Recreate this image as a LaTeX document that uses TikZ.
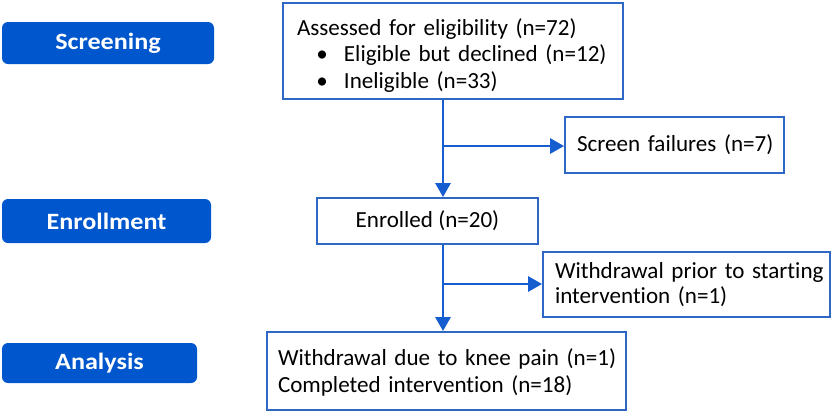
\documentclass[tikz,border=0pt]{standalone}
\usepackage{fontspec}
\usepackage{graphicx}
\setmainfont{Carlito}[Ligatures=NoCommon]
\usetikzlibrary{arrows.meta}
\definecolor{phase}{RGB}{0,86,204}
\definecolor{boxline}{RGB}{46,104,196}
\definecolor{arrowc}{RGB}{22,94,208}
\newcommand\phaselabel[1]{\scalebox{1.12}[1]{#1}}
\newcommand\oneline[1]{\mbox{#1}}
\tikzset{
  phasebox/.style={fill=phase, draw=none, rounded corners=4.5pt, text=white,
    font=\fontsize{17.5pt}{20pt}\selectfont\bfseries, inner sep=0pt},
  flowbox/.style={draw=boxline, line width=1.5pt, fill=white, align=left,
    font=\fontsize{17.3pt}{19.9pt}\selectfont, inner ysep=0pt, anchor=center},
  flowarrow/.style={draw=arrowc, line width=1.6pt, -{Triangle[length=10.5pt,width=11.5pt]}}
}
\begin{document}
\begin{tikzpicture}[x=0.75pt,y=-0.75pt]
\useasboundingbox (0,0) rectangle (833,412);
% phase labels
\node[phasebox, minimum width=159pt, minimum height=31.5pt] (scr) at (108,43) {\phaselabel{Screening}};
\node[phasebox, minimum width=156.75pt, minimum height=33pt] (enr) at (106.5,221) {\phaselabel{Enrollment}};
\node[phasebox, minimum width=146.25pt, minimum height=30pt] (ana) at (99.5,363) {\phaselabel{Analysis}};
% flow boxes
\node[flowbox, minimum width=255pt, minimum height=72pt, text width=234pt, inner xsep=10.5pt] (assess) at (453,51)
  {\oneline{\rule{0pt}{19pt}Assessed for eligibility (n=72)}\\
   \oneline{\hspace*{14.5pt}\makebox[20.75pt][l]{\textbullet}Eligible but declined (n=12)}\\
   \oneline{\hspace*{14.5pt}\makebox[20.75pt][l]{\textbullet}Ineligible (n=33)}};
\node[flowbox, minimum width=164.25pt, minimum height=42pt, text width=146.25pt, inner xsep=9pt] (fail) at (674.5,145)
  {\oneline{Screen failures (n=7)}};
\node[flowbox, minimum width=165.75pt, minimum height=34.5pt, align=center, inner xsep=0pt] (enrolled) at (427.5,221)
  {Enrolled (n=20)};
\node[flowbox, minimum width=215.25pt, minimum height=48.75pt, text width=197.25pt, inner xsep=9pt,
  font=\fontsize{17.3pt}{18.75pt}\selectfont] (wd) at (686.5,284.5)
  {\oneline{Withdrawal prior to starting}\\\oneline{intervention (n=1)}};
\node[flowbox, minimum width=269.25pt, minimum height=58.5pt, text width=252.75pt, inner xsep=8.25pt,
  font=\fontsize{17.3pt}{20.25pt}\selectfont] (final) at (446.5,371)
  {\oneline{\rule{0pt}{15pt}Withdrawal due to knee pain (n=1)}\\\oneline{Completed intervention (n=18)}};
% connectors
\coordinate (v1) at (443,146);
\coordinate (v2) at (443,284);
\draw[flowarrow] (assess.south -| v1) -- (enrolled.north -| v1);
\draw[flowarrow] (v1) -- (fail.west |- v1);
\draw[flowarrow] (enrolled.south -| v2) -- (final.north -| v2);
\draw[flowarrow] (v2) -- (wd.west |- v2);
\end{tikzpicture}
\end{document}
